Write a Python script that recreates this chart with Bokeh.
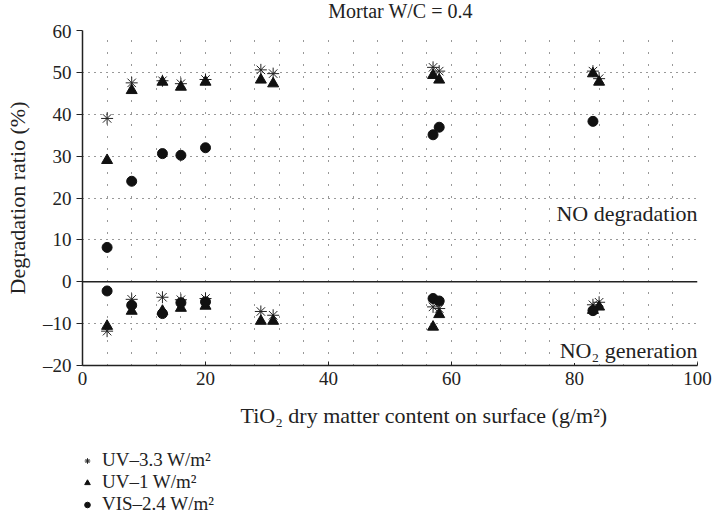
from bokeh.plotting import figure
from bokeh.models import (FixedTicker, Legend, LegendItem, Span, Label, Range1d)
from bokeh.embed import file_html
from bokeh.resources import INLINE

# ---- data ----
x_uv = [4, 8, 13, 16, 20, 29, 31, 57, 58, 83, 84]
uv33_no = [39.0, 47.5, 48.0, 47.3, 48.3, 50.6, 49.7, 51.2, 50.3, 50.3, 48.5]
uv1_no = [29.0, 45.7, 47.7, 46.5, 47.7, 48.2, 47.3, 49.3, 48.2, 49.7, 47.7]
uv33_no2 = [-11.8, -4.2, -3.7, -4.3, -4.0, -7.1, -8.0, -6.0, -6.4, -5.5, -4.9]
uv1_no2 = [-10.6, -7.0, -7.0, -6.3, -5.8, -9.4, -9.4, -10.8, -7.8, -6.8, -6.0]

x_vis = [4, 8, 13, 16, 20, 57, 58, 83]
vis_no = [8.2, 24.0, 30.6, 30.2, 32.0, 35.1, 36.9, 38.3]
vis_no2 = [-2.2, -5.6, -7.6, -5.0, -4.8, -4.0, -4.6, -6.9]

x_ticks = [0, 20, 40, 60, 80, 100]
y_ticks = [-20, -10, 0, 10, 20, 30, 40, 50, 60]
x_grid = list(range(4, 101, 4))
y_grid = [-10, 10, 20, 30, 40, 50, 60]

title_text = "Mortar W/C = 0.4"
x_label = "TiO\u2082 dry matter content on surface (g/m\u00b2)"
y_label = "Degradation ratio (%)"
series_names = ["UV\u20133.3 W/m\u00b2", "UV\u20131 W/m\u00b2", "VIS\u20132.4 W/m\u00b2"]
region_labels = ["NO degradation", "NO\u2082 generation"]
region_label_y = [16.3, -16.4]

FONT = "Liberation Serif"
INK = "#222222"
MARK = "#111111"


def strip(height, title=None):
    f = figure(width=713, height=height, output_backend="svg", toolbar_location=None,
               x_range=Range1d(0, 1), y_range=Range1d(0, 1),
               min_border_left=0, min_border_right=0, min_border_top=0, min_border_bottom=0,
               title=title)
    f.axis.visible = False
    f.grid.visible = False
    f.outline_line_color = None
    return f


# ---- title strip ----
t = strip(20)
t.add_layout(Label(x=400, y=10, x_units="screen", y_units="screen", text=title_text,
                   text_align="center", text_baseline="middle",
                   text_font=FONT, text_font_size="20px", text_color=INK))

# ---- main chart ----
p = figure(width=713, height=380, output_backend="svg", toolbar_location=None,
           x_range=Range1d(0, 100), y_range=Range1d(-20, 60),
           min_border_left=82, min_border_right=16, min_border_top=10, min_border_bottom=35)
p.outline_line_color = None
p.background_fill_color = "white"

for ax in (p.xaxis[0], p.yaxis[0]):
    ax.axis_line_color = INK
    ax.axis_line_width = 1.5
    ax.major_tick_line_color = INK
    ax.minor_tick_line_color = None
    ax.major_label_text_font = FONT
    ax.major_label_text_font_size = "19px"
    ax.major_label_text_color = INK
    ax.axis_label_text_font = FONT
    ax.axis_label_text_font_size = "22px"
    ax.axis_label_text_font_style = "normal"
    ax.axis_label_text_color = INK

p.xaxis.ticker = FixedTicker(ticks=x_ticks)
p.xaxis.major_tick_in = 4
p.xaxis.major_tick_out = 0
p.xaxis.major_label_standoff = 6

p.yaxis.ticker = FixedTicker(ticks=y_ticks)
p.yaxis.major_tick_in = 0
p.yaxis.major_tick_out = 6
p.yaxis.major_label_standoff = 5
p.yaxis.major_label_overrides = {t_: ("\u2013" + str(-t_)) for t_ in y_ticks if t_ < 0}
p.yaxis.axis_label = y_label
p.yaxis.axis_label_standoff = 10

p.xgrid.ticker = FixedTicker(ticks=x_grid)
p.xgrid.grid_line_color = "#333333"
p.xgrid.grid_line_dash = "1 11"
p.xgrid.grid_line_width = 1
p.ygrid.ticker = FixedTicker(ticks=y_grid)
p.ygrid.grid_line_color = "#333333"
p.ygrid.grid_line_dash = "1 5"
p.ygrid.grid_line_width = 1

p.add_layout(Span(location=0, dimension="width", line_color=INK, line_width=1.5))

star_style = dict(marker="asterisk", size=12, line_color=INK, line_width=1)
tri_style = dict(marker="triangle", size=11, fill_color=MARK, line_color=MARK)
circ_style = dict(marker="circle", size=10, fill_color=MARK, line_color=MARK)

p.scatter(x_uv + x_uv, uv33_no + uv33_no2, **star_style)
p.scatter(x_uv + x_uv, uv1_no + uv1_no2, **tri_style)
p.scatter(x_vis + x_vis, vis_no + vis_no2, **circ_style)

for txt, yy in zip(region_labels, region_label_y):
    p.add_layout(Label(x=100, y=yy, text=txt, text_align="right", text_baseline="middle",
                       text_font=FONT, text_font_size="22px", text_color=INK,
                       background_fill_color="white", background_fill_alpha=1.0))

# ---- strip below: x-axis title (offset right like the original) and legend ----
q = strip(120, title=x_label)
q.title.text_font = FONT
q.title.text_font_size = "22px"
q.title.text_font_style = "normal"
q.title.text_color = INK
q.title.align = "left"
q.title.offset = 240
q.title.standoff = 0

# same series; the strip's ranges keep the points themselves out of view
l_star = q.scatter(x_uv, uv33_no, **star_style)
l_tri = q.scatter(x_uv, uv1_no, **tri_style)
l_circ = q.scatter(x_vis, vis_no, **circ_style)

legend = Legend(items=[LegendItem(label=series_names[0], renderers=[l_star]),
                       LegendItem(label=series_names[1], renderers=[l_tri]),
                       LegendItem(label=series_names[2], renderers=[l_circ])],
                location=(80, 5), orientation="vertical",
                label_text_font=FONT, label_text_font_size="19px", label_text_color=INK,
                glyph_width=14, glyph_height=21, label_height=21, spacing=0,
                padding=0, margin=0, label_standoff=8,
                border_line_alpha=0, background_fill_alpha=0)
q.add_layout(legend, "center")

open("out.html", "w").write(file_html([t, p, q], INLINE))
